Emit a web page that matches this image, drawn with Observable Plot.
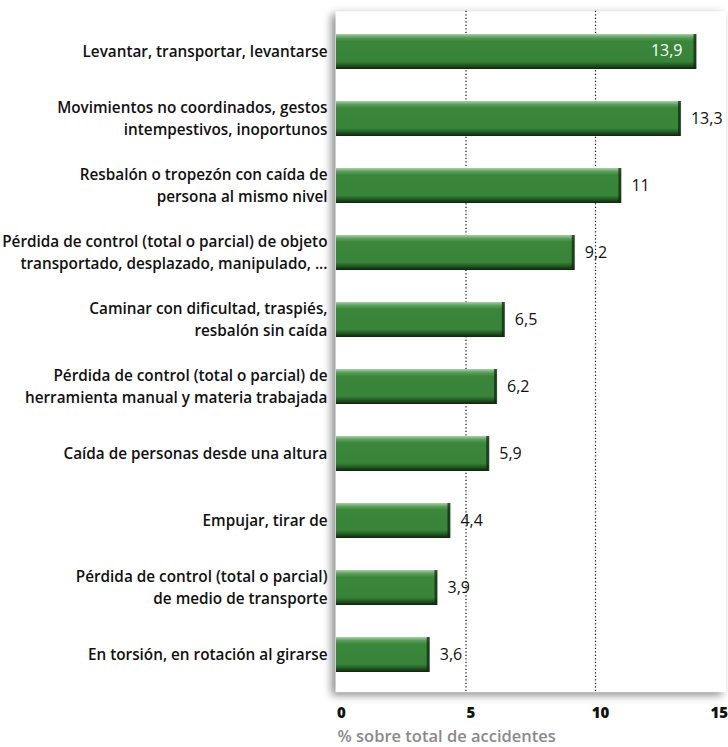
<!DOCTYPE html>
<html>
<head>
<meta charset="utf-8">
<script src="https://cdn.jsdelivr.net/npm/d3@7"></script>
<script src="https://cdn.jsdelivr.net/npm/@observablehq/plot@0.6"></script>
<style>
  html, body { margin: 0; padding: 0; background: #ffffff; }
  #chart { width: 728px; height: 747px; }
</style>
</head>
<body>
<div id="chart"></div>
<script>
const categories = [
  "Levantar, transportar, levantarse",
  "Movimientos no coordinados, gestos\nintempestivos, inoportunos",
  "Resbalón o tropezón con caída de\npersona al mismo nivel",
  "Pérdida de control (total o parcial) de objeto\ntransportado, desplazado, manipulado, ...",
  "Caminar con dificultad, traspiés,\nresbalón sin caída",
  "Pérdida de control (total o parcial) de\nherramienta manual y materia trabajada",
  "Caída de personas desde una altura",
  "Empujar, tirar de",
  "Pérdida de control (total o parcial)\nde medio de transporte",
  "En torsión, en rotación al girarse"
];
const values = [13.9, 13.3, 11, 9.2, 6.5, 6.2, 5.9, 4.4, 3.9, 3.6];
const gridTicks = [5, 10];
const xTicks = [0, 5, 10, 15];
const axisLabel = "% sobre total de accidentes";

const data = categories.map((c, i) => ({cat: c, v: values[i]}));
const maxV = d3.max(values);
const fmt = v => String(v).replace(".", ",");

const chart = Plot.plot({
  width: 728,
  height: 747,
  marginLeft: 336,
  marginRight: 3.5,
  marginTop: 15.3,
  marginBottom: 56.3,
  style: {background: "transparent", overflow: "visible"},
  x: {domain: [0, 15], axis: null},
  y: {domain: categories, axis: null, paddingInner: 0.48, paddingOuter: 0.24, align: 0.5},
  marks: [
    Plot.frame({fill: "white", stroke: "none", insetTop: -4.5, insetBottom: -1, insetLeft: -1, insetRight: -1}),
    Plot.ruleX(gridTicks, {stroke: "#111", strokeWidth: 1.2, strokeDasharray: "1.2,2.3", insetTop: -4.5, insetBottom: -1}),
    Plot.barX(data, {x: "v", y: "cat", fill: "url(#barGrad)"}),
    Plot.tickX(data, {x: "v", y: "cat", stroke: "#0f2a0f", strokeWidth: 3, dx: -1.5, strokeOpacity: 0.75}),
    Plot.text(data, {x: 0, y: "cat", text: "cat", textAnchor: "end", dx: -9, dy: -2, fontSize: 15.3, fontWeight: 600, fill: "#111", lineHeight: 1.45, fontFamily: "Open Sans"}),
    Plot.text(data.filter(d => d.v < maxV), {x: "v", y: "cat", text: d => fmt(d.v), textAnchor: "start", dx: 10, fontSize: 16, fill: "#111", fontFamily: "Open Sans"}),
    Plot.text(data.filter(d => d.v === maxV), {x: "v", y: "cat", text: d => fmt(d.v), textAnchor: "end", dx: -14, dy: -1, fontSize: 16, fill: "#fff", fontFamily: "Open Sans"}),
    Plot.text(xTicks.filter(t => t < 15), {x: d => d, frameAnchor: "bottom", lineAnchor: "middle", text: d => String(d), dx: 5, dy: 22, fontSize: 15, fontWeight: 800, fill: "#111", fontFamily: "Open Sans"}),
    Plot.text(xTicks.filter(t => t === 15), {x: d => d, frameAnchor: "bottom", lineAnchor: "middle", text: d => String(d), textAnchor: "end", dx: 3, dy: 22, fontSize: 15, fontWeight: 800, fill: "#111", fontFamily: "Open Sans"}),
    Plot.text([axisLabel], {x: 0, frameAnchor: "bottom", lineAnchor: "middle", text: d => d, textAnchor: "start", dx: 1, dy: 46, fontSize: 16.5, fontWeight: 600, fill: "#8a8a8a", fontFamily: "Open Sans"})
  ]
});

const svg = d3.select(chart);
svg.insert("defs", ":first-child").html(`
  <linearGradient id="barGrad" x1="0" y1="0" x2="0" y2="1">
    <stop offset="0" stop-color="#a9cfa9"/>
    <stop offset="0.1" stop-color="#5c9f5c"/>
    <stop offset="0.2" stop-color="#3a873a"/>
    <stop offset="0.78" stop-color="#37843a"/>
    <stop offset="0.88" stop-color="#235c23"/>
    <stop offset="1" stop-color="#0c240c"/>
  </linearGradient>`);
const frame = chart.querySelector('[aria-label="frame"]');
if (frame) frame.style.filter = "drop-shadow(-4px 3px 4px rgba(0,0,0,0.45))";
document.getElementById("chart").appendChild(chart);
</script>
</body>
</html>
